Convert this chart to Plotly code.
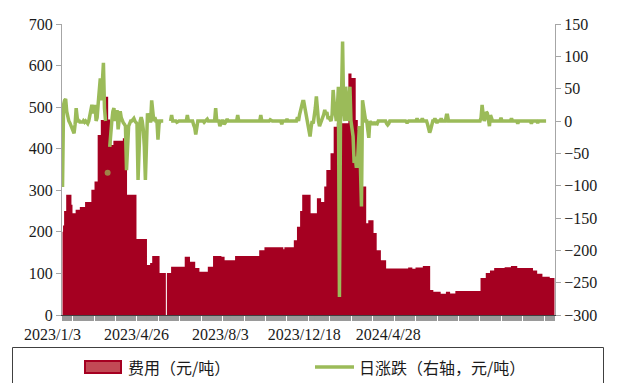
import plotly.graph_objects as go

# ---------------- data ----------------
N_DAYS = 470
TICK_POS = [0, 80, 160, 240, 320]
TICK_LABELS = ["2023/1/3", "2023/4/26", "2023/8/3", "2023/12/18", "2024/4/28"]
SERIES_NAMES = ["费用（元/吨）", "日涨跌（右轴，元/吨）"]

# fee (元/吨): step levels and how many days each level lasts
FEE_LEVELS = [200, 215, 250, 289, 265, 245, 253, 260, 272, 301,
              321, 433, 469, 525, 470, 440, 409, 419, 425, 289,
              183, 120, 125, 142, 101, 0, 101, 116, 140, 128,
              113, 104, 116, 142, 140, 132, 142, 156, 163, 158,
              163, 180, 212, 250, 289, 245, 281, 272, 309, 349,
              389, 453, 461, 581, 570, 469, 445, 309, 221, 228,
              197, 156, 132, 112, 114, 111, 114, 118, 60, 56,
              51, 56, 52, 58, 89, 101, 107, 113, 115, 118,
              113, 107, 99, 92, 89]
FEE_DAYS = [1, 1, 2, 5, 1, 3, 4, 5, 6, 3,
            3, 3, 4, 3, 2, 1, 2, 9, 4, 9,
            10, 3, 2, 7, 6, 1, 4, 13, 5, 5,
            4, 8, 5, 8, 3, 10, 23, 5, 18, 1,
            9, 3, 3, 2, 8, 6, 4, 3, 2, 4,
            3, 3, 11, 3, 4, 2, 4, 4, 2, 5,
            3, 4, 5, 21, 4, 3, 7, 7, 3, 7,
            5, 4, 5, 24, 5, 4, 4, 10, 6, 6,
            15, 4, 5, 7, 5]

# daily change (右轴): days with a non-zero change, zero otherwise
CHG_DAY = [0, 1, 2, 3, 4, 5, 7, 8, 9, 10, 11, 12, 13, 14, 17, 19, 21, 23, 24,
           26, 27, 28, 29, 30, 31, 33, 34, 35, 36, 37, 38, 39, 40, 43, 45, 46,
           48, 49, 51, 52, 53, 55, 56, 58, 59, 60, 61, 62, 63, 64, 67, 68, 70,
           71, 72, 73, 75, 77, 78, 79, 80, 81, 85, 86, 88, 91, 92, 104, 109,
           119, 125, 126, 127, 128, 135, 138, 146, 150, 151, 154, 155, 157,
           167, 189, 198, 209, 214, 224, 226, 227, 228, 229, 230, 231, 232,
           234, 235, 236, 237, 239, 240, 241, 242, 243, 245, 246, 248, 249,
           250, 251, 252, 253, 254, 255, 257, 258, 259, 260, 262, 263, 264,
           266, 267, 268, 270, 271, 273, 274, 276, 277, 278, 279, 280, 281,
           282, 283, 284, 285, 286, 287, 288, 291, 292, 294, 295, 296, 297,
           298, 299, 300, 309, 310, 311, 328, 329, 338, 343, 348, 349, 350,
           351, 352, 355, 357, 361, 366, 367, 399, 400, 401, 403, 404, 405,
           406, 407, 408, 409, 418, 428, 434, 447, 453]
CHG_VAL = [-102, 25, 32, 34, 15, 5, -3, -8, -12, -14, -19, -5, 20, 5, -3, -3, -2, -3, -4,
           10, 20, 25, 12, 18, 25, 5, 27, 45, 66, 32, 60, 90, 20, -80, -40, -10,
           15, 20, 10, 17, -13, 15, 5, -3, -5, -8, -76, -30, -8, -4, 2, 4, -2,
           -4, -91, -20, 6, -13, -40, -91, -8, 12, 32, 5, 6, -29, -5, 9, -2,
           9, -6, -10, -21, -10, -2, 3, 20, -8, -3, -5, -3, 3,
           9, 9, 2, -5, 3, 6, 10, 17, 20, 30, 30, 22, 10,
           -6, -12, -24, -10, -4, 5, 20, 38, 15, -8, -4, 5, 10,
           17, 10, 14, 5, 5, 2, 10, 48, 27, 10, 20, 53, -272,
           40, 123, 20, 53, 10, 30, 53, -10, -24, -65, -55, -70, -70,
           -40, -8, -70, -132, 32, 22, 5, -10, -26, -4, -3, -4, -3,
           -4, -3, -4, -4, -6, -4, -2, -2, 4, 4, -5, -13, -18,
           -13, -3, 4, -3, 4, 9, 9, 5, 25, 10, 5, 14, 12,
           5, -8, 9, 2, 5, 4, -4, -4, -3]
CHG_MISSING = [42, 44, 97, 98, 99, 100, 101, 102]
CHG_LAST_DAY = 461

# ---------------- build series ----------------
days = list(range(N_DAYS))
fee = []
for lvl, n in zip(FEE_LEVELS, FEE_DAYS):
    fee += [lvl] * n
fee = fee[:N_DAYS]

chg_map = dict(zip(CHG_DAY, CHG_VAL))
chg = []
for d in days:
    if d > CHG_LAST_DAY or d in CHG_MISSING:
        chg.append(None)
    else:
        chg.append(chg_map.get(d, 0))
# a lone observation (neighbours missing) is drawn as a dot
marker_sizes = [0] * N_DAYS
for d in days:
    if chg[d] is not None:
        prev_missing = d == 0 or chg[d - 1] is None
        next_missing = d == N_DAYS - 1 or chg[d + 1] is None
        if prev_missing and next_missing:
            marker_sizes[d] = 6

RED = "#A50021"
GREEN = "#9BBB59"
FONT = "Liberation Serif, Times New Roman, DejaVu Serif, serif"
CJK = "Noto Sans CJK SC"

fig = go.Figure()
# daily columns drawn as one contiguous column band (vertical edges halfway
# between days, exactly where the column edges are)
fig.add_trace(go.Scatter(
    x=days, y=fee, name=SERIES_NAMES[0],
    mode="lines", line=dict(shape="hvh", width=0, color=RED),
    fill="tozeroy", fillcolor=RED, showlegend=False,
))
fig.add_trace(go.Scatter(
    x=days, y=chg, name=SERIES_NAMES[1], yaxis="y2",
    mode="lines+markers",
    line=dict(color=GREEN, width=3.5),
    marker=dict(color=GREEN, size=marker_sizes, line=dict(width=0)),
    connectgaps=False, showlegend=False,
))

axis_font = dict(family=FONT, size=16, color="#1a1a1a")
fig.update_layout(
    width=618, height=383,
    margin=dict(l=62, r=63, t=24, b=68),
    paper_bgcolor="white", plot_bgcolor="white",
    xaxis=dict(
        range=[-0.5, N_DAYS - 0.5],
        tickmode="array", tickvals=TICK_POS, ticktext=TICK_LABELS,
        ticks="outside", ticklen=5, tickcolor="#999999", tickwidth=0.5,
        minor=dict(dtick=1, tick0=0, ticks="outside", ticklen=5,
                   tickcolor="#9a9a9a", tickwidth=0.5),
        ticklabelshift=-10,
        showline=True, linecolor="#404040", linewidth=1,
        showgrid=False, zeroline=False,
        tickfont=axis_font,
    ),
    yaxis=dict(
        range=[0, 700], dtick=100, tick0=0,
        ticks="outside", ticklen=5, tickcolor="#A6A6A6",
        showline=True, linecolor="#A6A6A6", linewidth=1,
        showgrid=False, zeroline=False,
        tickfont=axis_font,
    ),
    yaxis2=dict(
        range=[-300, 150], dtick=50, tick0=0,
        overlaying="y", side="right",
        ticks="outside", ticklen=5, tickcolor="#A6A6A6",
        showline=True, linecolor="#A6A6A6", linewidth=1,
        showgrid=False, zeroline=False,
        tickfont=axis_font,
    ),
)

# ---------------- legend (boxed, under the plot) ----------------
def px_x(p):
    return (p - 62) / 493.0


def px_y(p):
    return (315 - p) / 291.0


fig.add_shape(type="rect", xref="paper", yref="paper",
              x0=px_x(12.5), x1=px_x(603.5), y0=px_y(347.5), y1=px_y(390),
              line=dict(color="#404040", width=1), fillcolor="rgba(0,0,0,0)")
fig.add_shape(type="rect", xref="paper", yref="paper",
              x0=px_x(85), x1=px_x(121), y0=px_y(361), y1=px_y(373),
              line=dict(color=RED, width=2), fillcolor="#C24A55")
fig.add_annotation(xref="paper", yref="paper", x=px_x(126), y=px_y(367),
                   xanchor="left", yanchor="middle", showarrow=False,
                   text=SERIES_NAMES[0],
                   font=dict(family=CJK, size=16, color="#1a1a1a"))
fig.add_shape(type="line", xref="paper", yref="paper",
              x0=px_x(315), x1=px_x(354), y0=px_y(367), y1=px_y(367),
              line=dict(color=GREEN, width=3.5))
fig.add_annotation(xref="paper", yref="paper", x=px_x(357), y=px_y(367),
                   xanchor="left", yanchor="middle", showarrow=False,
                   text=SERIES_NAMES[1],
                   font=dict(family=CJK, size=16, color="#1a1a1a"))

fig.write_html("out.html",
               config={"displayModeBar": False},
               post_script="document.body.style.margin='0';"
                           "document.body.style.overflow='hidden';")
